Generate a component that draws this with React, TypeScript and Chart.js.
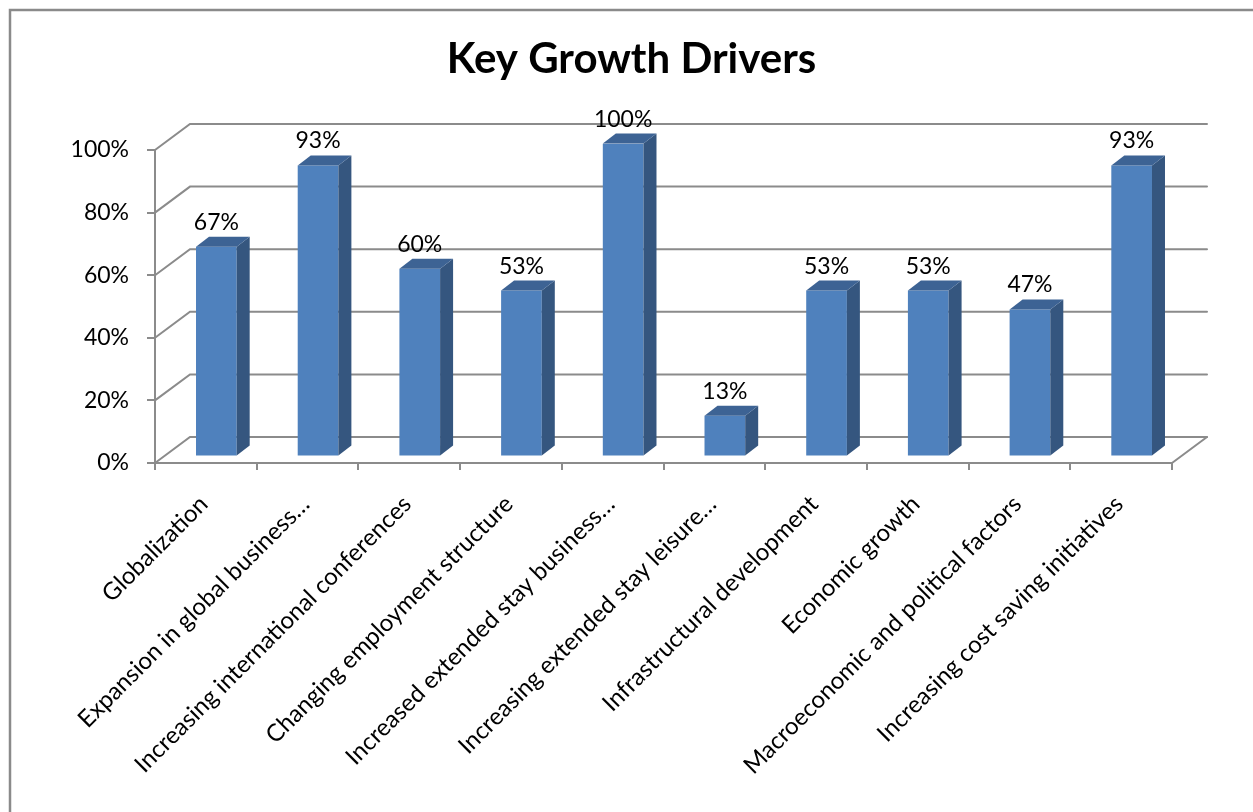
import React, { useEffect, useRef } from "react";
import { Chart, registerables } from "chart.js";

Chart.register(...registerables);

const title = "Key Growth Drivers";
const categories = [
  "Globalization",
  "Expansion in global business…",
  "Increasing international conferences",
  "Changing employment structure",
  "Increased extended stay business…",
  "Increasing extended stay leisure…",
  "Infrastructural development",
  "Economic growth",
  "Macroeconomic and political factors",
  "Increasing cost saving initiatives",
];
const values = [67, 93, 60, 53, 100, 13, 53, 53, 47, 93];
const yTickValues = [0, 20, 40, 60, 80, 100];

const W = 1253;
const H = 812;
const FONT = "Lato, 'Open Sans', sans-serif";
const GRID = "#8b8b8b";
const WALL = { x: 35, y: -26 };
const BAR_SHIFT = { x: 10.5, y: -6.5 };
const BAR_DEPTH = { x: 13, y: -10 };
const FRONT = "#4f81bd";
const SIDE = "#35567f";
const TOP = "#3d6394";

const threeD = {
  id: "threeD",
  beforeDraw(chart: any) {
    const ctx = chart.ctx;
    const { left, right, bottom } = chart.chartArea;
    const y = chart.scales.y;
    ctx.save();
    ctx.fillStyle = "#ffffff";
    ctx.fillRect(0, 0, W, H);
    // outer frame
    ctx.strokeStyle = "#8a8a8a";
    ctx.lineWidth = 2.5;
    ctx.beginPath();
    ctx.moveTo(10, H + 5);
    ctx.lineTo(10, 10);
    ctx.lineTo(W + 5, 10);
    ctx.stroke();
    // back wall gridlines + left wall diagonals
    ctx.strokeStyle = GRID;
    ctx.lineWidth = 2;
    ctx.lineCap = "round";
    yTickValues.forEach((v) => {
      const py = y.getPixelForValue(v);
      ctx.beginPath();
      ctx.moveTo(left, py);
      ctx.lineTo(left + WALL.x, py + WALL.y);
      ctx.lineTo(right + WALL.x, py + WALL.y);
      ctx.stroke();
    });
    // floor right edge
    ctx.beginPath();
    ctx.moveTo(right, bottom);
    ctx.lineTo(right + WALL.x, bottom + WALL.y);
    ctx.stroke();
    ctx.restore();
  },
  beforeDatasetsDraw(chart: any) {
    chart.ctx.save();
    chart.ctx.translate(BAR_SHIFT.x, BAR_SHIFT.y);
  },
  afterDatasetsDraw(chart: any) {
    const ctx = chart.ctx;
    const meta = chart.getDatasetMeta(0);
    meta.data.forEach((bar: any) => {
      const { x, y, base, width } = bar.getProps(["x", "y", "base", "width"], true);
      const l = x - width / 2;
      const r = x + width / 2;
      ctx.fillStyle = SIDE;
      ctx.beginPath();
      ctx.moveTo(r, y);
      ctx.lineTo(r + BAR_DEPTH.x, y + BAR_DEPTH.y);
      ctx.lineTo(r + BAR_DEPTH.x, base + BAR_DEPTH.y);
      ctx.lineTo(r, base);
      ctx.closePath();
      ctx.fill();
      ctx.fillStyle = TOP;
      ctx.beginPath();
      ctx.moveTo(l, y);
      ctx.lineTo(r, y);
      ctx.lineTo(r + BAR_DEPTH.x, y + BAR_DEPTH.y);
      ctx.lineTo(l + BAR_DEPTH.x, y + BAR_DEPTH.y);
      ctx.closePath();
      ctx.fill();
    });
    ctx.restore();
    // data labels
    ctx.save();
    ctx.fillStyle = "#000000";
    ctx.font = `23px ${FONT}`;
    ctx.textAlign = "center";
    ctx.textBaseline = "alphabetic";
    meta.data.forEach((bar: any, i: number) => {
      const { x, y } = bar.getProps(["x", "y"], true);
      ctx.fillText(
        `${values[i]}%`,
        x + BAR_SHIFT.x,
        y + BAR_SHIFT.y + BAR_DEPTH.y - 7
      );
    });
    ctx.restore();
  },
  afterDraw(chart: any) {
    const ctx = chart.ctx;
    ctx.save();
    ctx.fillStyle = "#000000";
    ctx.font = `bold 42px ${FONT}`;
    ctx.textAlign = "center";
    ctx.textBaseline = "alphabetic";
    ctx.fillText(title, 631.5, 73);
    ctx.restore();
  },
};

export default function App() {
  const ref = useRef<HTMLCanvasElement | null>(null);
  useEffect(() => {
    if (!ref.current) return;
    const chart = new Chart(ref.current, {
      type: "bar",
      data: {
        labels: categories,
        datasets: [
          {
            data: values,
            backgroundColor: FRONT,
            borderWidth: 0,
            barPercentage: 0.4,
            categoryPercentage: 1,
          },
        ],
      },
      options: {
        responsive: false,
        animation: false,
        events: [],
        layout: { padding: { left: 40, right: 81, top: 150, bottom: 0 } },
        plugins: {
          legend: { display: false },
          title: { display: false },
          tooltip: { enabled: false },
        },
        scales: {
          x: {
            afterFit: (s: any) => {
              s.height = H - 463;
            },
            grid: {
              offset: true,
              drawOnChartArea: false,
              drawTicks: true,
              tickLength: 7,
              color: GRID,
              lineWidth: 2,
            },
            border: { display: true, color: GRID, width: 2 },
            ticks: {
              autoSkip: false,
              maxRotation: 45,
              minRotation: 45,
              padding: 20,
              labelOffset: -2,
              color: "#000000",
              font: { family: FONT, size: 24 },
            },
          },
          y: {
            min: 0,
            max: 100,
            afterFit: (s: any) => {
              s.width = 115;
            },
            afterBuildTicks: (s: any) => {
              s.ticks = yTickValues.map((v) => ({ value: v }));
            },
            grid: {
              drawOnChartArea: false,
              drawTicks: true,
              tickLength: 8,
              color: GRID,
              lineWidth: 2,
            },
            border: { display: true, color: GRID, width: 2 },
            ticks: {
              padding: 18,
              color: "#000000",
              font: { family: FONT, size: 23 },
              callback: (v: any) => `${v}%`,
            },
          },
        },
      },
      plugins: [threeD],
    });
    return () => chart.destroy();
  }, []);
  return (
    <div style={{ position: "fixed", left: 0, top: 0, width: W, height: H, background: "#fff" }}>
      <canvas ref={ref} width={W} height={H} style={{ display: "block" }} />
    </div>
  );
}
